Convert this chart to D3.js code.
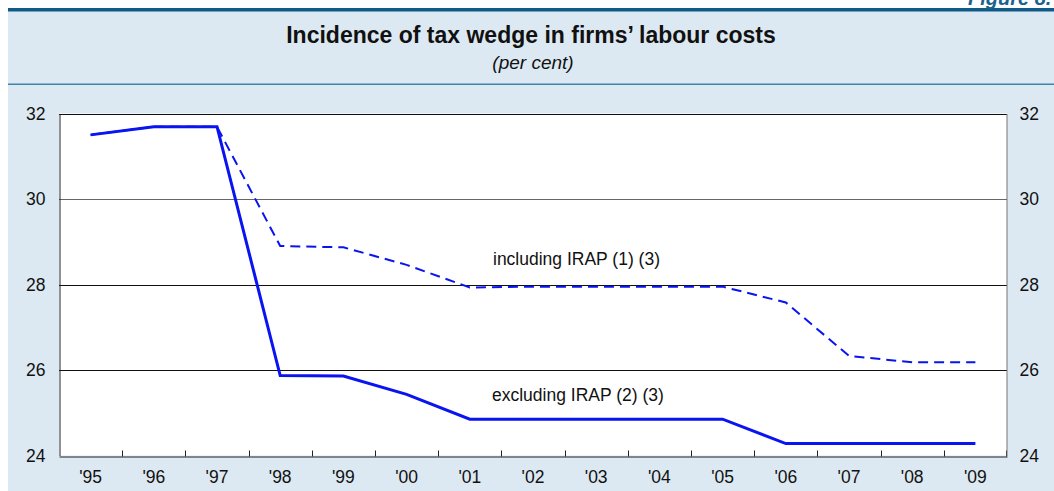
<!DOCTYPE html>
<html><head><meta charset="utf-8">
<script src="https://cdn.jsdelivr.net/npm/d3@7"></script>
<style>html,body{margin:0;padding:0;background:#fff}svg{display:block}</style>
</head><body>
<svg id="chart" width="1054" height="491"></svg>
<script>
const categories = ["'95","'96","'97","'98","'99","'00","'01","'02","'03","'04","'05","'06","'07","'08","'09"];
const includingIRAP = [31.5,31.69,31.69,28.9,28.87,28.46,27.93,27.95,27.95,27.95,27.95,27.58,26.33,26.18,26.18];
const excludingIRAP = [31.5,31.69,31.69,25.87,25.86,25.43,24.85,24.85,24.85,24.85,24.85,24.28,24.28,24.28,24.28];
const yTicks = [24,26,28,30,32];

const svg = d3.select("#chart");
const font = "'Liberation Sans', Arial, Helvetica, sans-serif";
const m = {left:59, right:1007, top:113.5, bottom:455.5};

// panel background
svg.append("rect").attr("x",8).attr("y",8).attr("width",1046).attr("height",483).attr("fill","#dde9f2");
svg.append("rect").attr("x",8).attr("y",8).attr("width",1046).attr("height",3.5).attr("fill","#0f5a87");
svg.append("rect").attr("x",8).attr("y",83.5).attr("width",1046).attr("height",1.5).attr("fill","#3f84aa");
svg.append("text").attr("x",968).attr("y",5).attr("font-family",font).attr("font-size",20)
  .attr("font-weight","bold").attr("font-style","italic").attr("fill","#1a6290").text("Figure 8.");

svg.append("text").attr("x",531).attr("y",43).attr("text-anchor","middle").attr("font-family",font)
  .attr("font-size",23).attr("font-weight","bold").attr("fill","#111").text("Incidence of tax wedge in firms\u2019 labour costs");
svg.append("text").attr("x",533).attr("y",69).attr("text-anchor","middle").attr("font-family",font)
  .attr("font-size",19).attr("font-style","italic").attr("fill","#111").text("(per cent)");

const x = d3.scaleBand().domain(categories).range([m.left,m.right]).padding(0);
const y = d3.scaleLinear().domain([24,32]).range([m.bottom,m.top]);

svg.append("rect").attr("x",m.left).attr("y",m.top).attr("width",m.right-m.left).attr("height",m.bottom-m.top).attr("fill","#fff");

// grid
svg.append("g").selectAll("line").data(yTicks.filter(d=>d>24)).join("line")
  .attr("x1",m.left).attr("x2",m.right).attr("y1",d=>Math.round(y(d))+0.5).attr("y2",d=>Math.round(y(d))+0.5)
  .attr("stroke",d=>d===30?"#666":"#111").attr("stroke-width",1);

// axes
const gx = svg.append("g").attr("transform",`translate(0,${Math.round(m.bottom)+0.5})`)
  .call(d3.axisBottom(x).tickSize(0).tickPadding(14));
gx.select(".domain").attr("stroke","#222");
gx.selectAll("text").attr("font-family",font).attr("font-size",17.5).attr("fill","#111");
gx.selectAll(".bt").data(categories.slice(1)).join("line").attr("class","bt")
  .attr("x1",d=>Math.round(x(d))+0.5).attr("x2",d=>Math.round(x(d))+0.5).attr("y1",0).attr("y2",-6).attr("stroke","#222");
gx.append("line").attr("x1",m.right-0.5).attr("x2",m.right-0.5).attr("y1",0).attr("y2",-6).attr("stroke","#222");

const gl = svg.append("g").attr("transform",`translate(${m.left+0.5},0)`)
  .call(d3.axisLeft(y).tickValues(yTicks).tickSize(0).tickPadding(14).tickFormat(d3.format("d")));
gl.select(".domain").attr("stroke","#222");
gl.selectAll("text").attr("font-family",font).attr("font-size",17.5).attr("fill","#111");

const gr = svg.append("g").attr("transform",`translate(${m.right-0.5},0)`)
  .call(d3.axisRight(y).tickValues(yTicks).tickSize(0).tickPadding(13).tickFormat(d3.format("d")));
gr.select(".domain").attr("stroke","#777");
gr.selectAll("text").attr("font-family",font).attr("font-size",17.5).attr("fill","#111");

// lines
const cx = d => x(d) + x.bandwidth()/2;
const line = d3.line().x((d,i)=>cx(categories[i])).y(d=>y(d));
svg.append("path").datum(includingIRAP).attr("d",line).attr("fill","none")
  .attr("stroke","#0a14f0").attr("stroke-width",2).attr("stroke-dasharray","10,6");
svg.append("path").datum(excludingIRAP).attr("d",line).attr("fill","none")
  .attr("stroke","#0a14f0").attr("stroke-width",3);

svg.append("text").attr("x",493).attr("y",265).attr("font-family",font).attr("font-size",17.5).attr("fill","#111").text("including IRAP (1) (3)");
svg.append("text").attr("x",492).attr("y",401).attr("font-family",font).attr("font-size",17.5).attr("fill","#111").text("excluding IRAP (2) (3)");
</script>
</body></html>
